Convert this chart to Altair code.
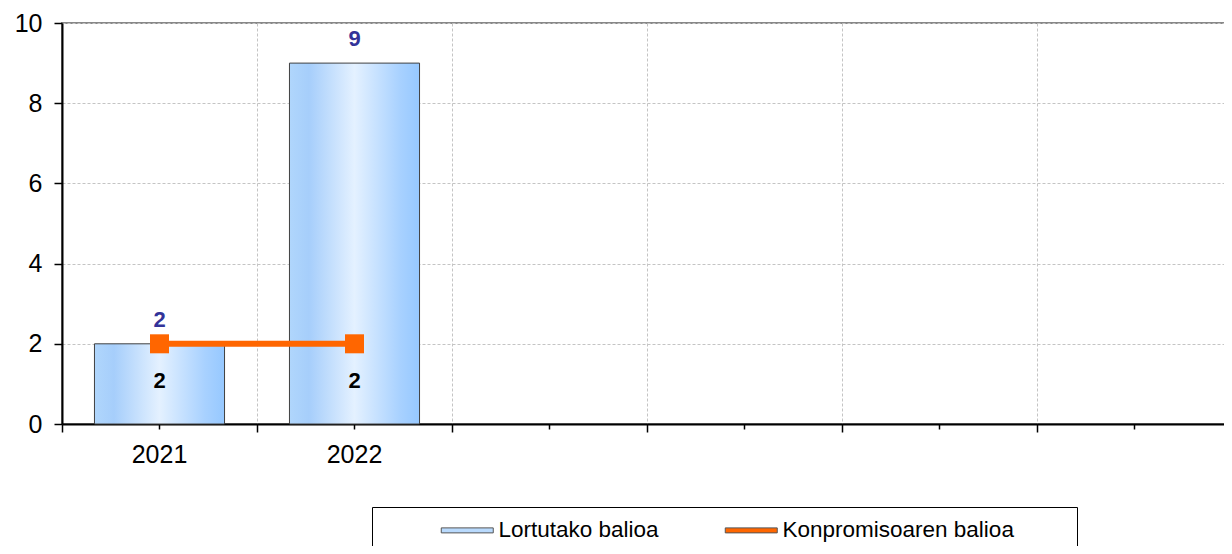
import altair as alt
import pandas as pd

# ---- data ----
categories = ["2021", "2022", " ", "  ", "   ", "    "]
years = ["2021", "2022"]
lortutako = [2, 9]
konpromiso = [2, 2]
series_names = ["Lortutako balioa", "Konpromisoaren balioa"]
y_ticks = [0, 2, 4, 6, 8, 10]

bars_df = pd.DataFrame({"year": years, "value": lortutako, "series": series_names[0]})
line_df = pd.DataFrame({"year": years, "value": konpromiso, "series": series_names[1]})

FONT = "Arial, Liberation Sans, sans-serif"
ORANGE = "#ff6600"

xscale = alt.Scale(domain=categories, paddingInner=0, paddingOuter=0)
yscale = alt.Scale(domain=[0, 10])

grid_axis = alt.Axis(
    orient="bottom", bandPosition=0, grid=True, gridColor="#c4c4c4", gridDash=[3, 2],
    gridWidth=1, ticks=True, tickSize=8, tickColor="#000", tickWidth=1.5,
    labels=False, domain=True, domainColor="#000", domainWidth=2, title=None,
)
label_axis = alt.Axis(
    orient="bottom", bandPosition=0.5, grid=False, ticks=True, tickSize=5,
    tickColor="#000", tickWidth=1.5, labels=True, labelFont=FONT, labelFontSize=25,
    labelColor="#000", labelPadding=13, labelAngle=0, domain=False, title=None,
)
y_axis = alt.Axis(
    values=y_ticks, grid=True, gridColor="#c4c4c4", gridDash=[3, 2], gridWidth=1,
    tickSize=8, tickColor="#000", tickWidth=1.5, domainColor="#000", domainWidth=2,
    labelFont=FONT, labelFontSize=25, labelColor="#000", labelPadding=12, title=None,
)

gradient = alt.LinearGradient(
    gradient="linear", x1=0, x2=1, y1=0, y2=0,
    stops=[
        alt.GradientStop(offset=0, color="#b0d6fc"),
        alt.GradientStop(offset=0.15, color="#a6cefb"),
        alt.GradientStop(offset=0.5, color="#e4f1ff"),
        alt.GradientStop(offset=0.85, color="#a8d1ff"),
        alt.GradientStop(offset=1, color="#96c8ff"),
    ],
)

nb = "\u00a0"
blank = "\u2800"
legend = alt.Legend(
    orient="none", legendX=310, legendY=484, direction="horizontal",
    title=nb, titleOrient="left", titlePadding=72, titleFontSize=22, titleFont=FONT,
    strokeColor="#000", fillColor="#ffffff", padding=12,
    symbolType="M-2.6,-0.25H2.6V0.25H-2.6Z", symbolSize=400,
    symbolStrokeColor="#555555", symbolStrokeWidth=1,
    labelFont=FONT, labelFontSize=22.5, labelColor="#000", labelOffset=20,
    columnPadding=64, labelLimit=600,
    labelExpr="datum.label == '" + series_names[1] + "' ? datum.label + '" + blank * 3 + "' : datum.label",
)

y_enc = alt.Y("value:Q", scale=yscale, axis=y_axis)

bars = alt.Chart(bars_df).mark_bar(
    width={"band": 0.667}, color=gradient, stroke="#404040", strokeWidth=1
).encode(
    x=alt.X("year:N", scale=xscale, axis=grid_axis),
    y=y_enc,
)

line = alt.Chart(line_df).mark_line(color=ORANGE, strokeWidth=6).encode(
    x=alt.X("year:N", scale=xscale, axis=label_axis),
    y=y_enc,
)

points = alt.Chart(line_df).mark_square(filled=True, size=361, opacity=1).encode(
    x=alt.X("year:N", scale=xscale, axis=None),
    y=y_enc,
    color=alt.Color("series:N", scale=alt.Scale(domain=series_names, range=["#b9dafd", ORANGE]), legend=legend),
)

bar_text = alt.Chart(bars_df).mark_text(
    dy=-24, font=FONT, fontSize=22, fontWeight="bold", color="#333399"
).encode(
    x=alt.X("year:N", scale=xscale, axis=None),
    y=y_enc,
    text="value:Q",
)

line_text = alt.Chart(line_df).mark_text(
    dy=37, font=FONT, fontSize=22, fontWeight="bold", color="#000"
).encode(
    x=alt.X("year:N", scale=xscale, axis=None),
    y=y_enc,
    text="value:Q",
)

chart = alt.layer(bars, line, points, bar_text, line_text).resolve_axis(
    x="independent"
).properties(
    width=1170, height=401,
    autosize=alt.AutoSizeParams(type="none"),
    padding={"left": 54, "top": 15, "right": -8, "bottom": 122},
).configure_view(stroke="#888888", strokeWidth=2)

chart.save("out.html", embed_options={"renderer": "svg", "actions": False})
